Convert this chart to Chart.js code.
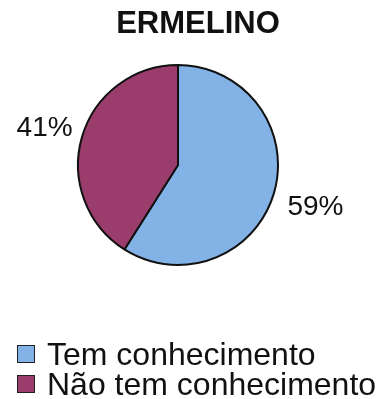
<!DOCTYPE html>
<html>
<head>
<meta charset="utf-8">
<title>ERMELINO</title>
<script src="https://cdn.jsdelivr.net/npm/chart.js@4/dist/chart.umd.min.js"></script>
<style>
  html, body { margin: 0; padding: 0; background: #fff; overflow: hidden; }
  #wrap { position: relative; width: 386px; height: 399px; }
  canvas { display: block; }
  #legend {
    position: absolute; left: 17px; top: 339px;
    font-family: "Liberation Sans", Arial, Helvetica, sans-serif;
    font-size: 32px; color: #111;
  }
  #legend .item { display: flex; align-items: center; height: 30px; white-space: nowrap; }
  #legend .box { width: 16px; height: 16px; border: 1.5px solid #222; margin-right: 12px; }
</style>
</head>
<body>
<div id="wrap">
  <canvas id="pie" width="386" height="399"></canvas>
  <div id="legend"></div>
</div>
<script>
const chartTitle = 'ERMELINO';
const categories = ['Tem conhecimento', 'Não tem conhecimento'];
const shares = [59, 41];
const sliceColors = ['#82b2e6', '#9a3d6c'];

const FONT = '"Liberation Sans", Arial, Helvetica, sans-serif';

// title and the percentage next to each slice
const pieText = {
  id: 'pieText',
  afterDraw(chart) {
    const ctx = chart.ctx;
    ctx.save();
    ctx.fillStyle = '#111';
    ctx.textAlign = 'center';
    ctx.textBaseline = 'middle';
    ctx.font = 'bold 31px ' + FONT;
    ctx.fillText(chartTitle, 198, 24);

    ctx.font = '28px ' + FONT;
    const meta = chart.getDatasetMeta(0);
    meta.data.forEach((arc, i) => {
      const p = arc.getProps(['x', 'y', 'startAngle', 'endAngle', 'outerRadius'], true);
      const mid = (p.startAngle + p.endAngle) / 2;
      const r = p.outerRadius * 1.41;
      ctx.fillText(shares[i] + '%', p.x + Math.cos(mid) * r + 2, p.y + Math.sin(mid) * r + 3);
    });
    ctx.restore();
  }
};

const chart = new Chart(document.getElementById('pie'), {
  type: 'pie',
  data: {
    labels: categories,
    datasets: [{
      data: shares,
      backgroundColor: sliceColors,
      borderColor: '#111',
      borderWidth: 2,
      radius: 100
    }]
  },
  options: {
    responsive: false,
    animation: false,
    layout: { padding: { top: 0, left: 0, right: 30, bottom: 69 } },
    plugins: {
      tooltip: { enabled: false },
      legend: { display: false }
    }
  },
  plugins: [pieText]
});

// legend as html, built from the chart's own legend items
const legendEl = document.getElementById('legend');
Chart.overrides.pie.plugins.legend.labels.generateLabels(chart).forEach(item => {
  const row = document.createElement('div');
  row.className = 'item';
  const box = document.createElement('span');
  box.className = 'box';
  box.style.background = item.fillStyle;
  const label = document.createElement('span');
  label.textContent = item.text;
  row.appendChild(box);
  row.appendChild(label);
  legendEl.appendChild(row);
});
</script>
</body>
</html>
